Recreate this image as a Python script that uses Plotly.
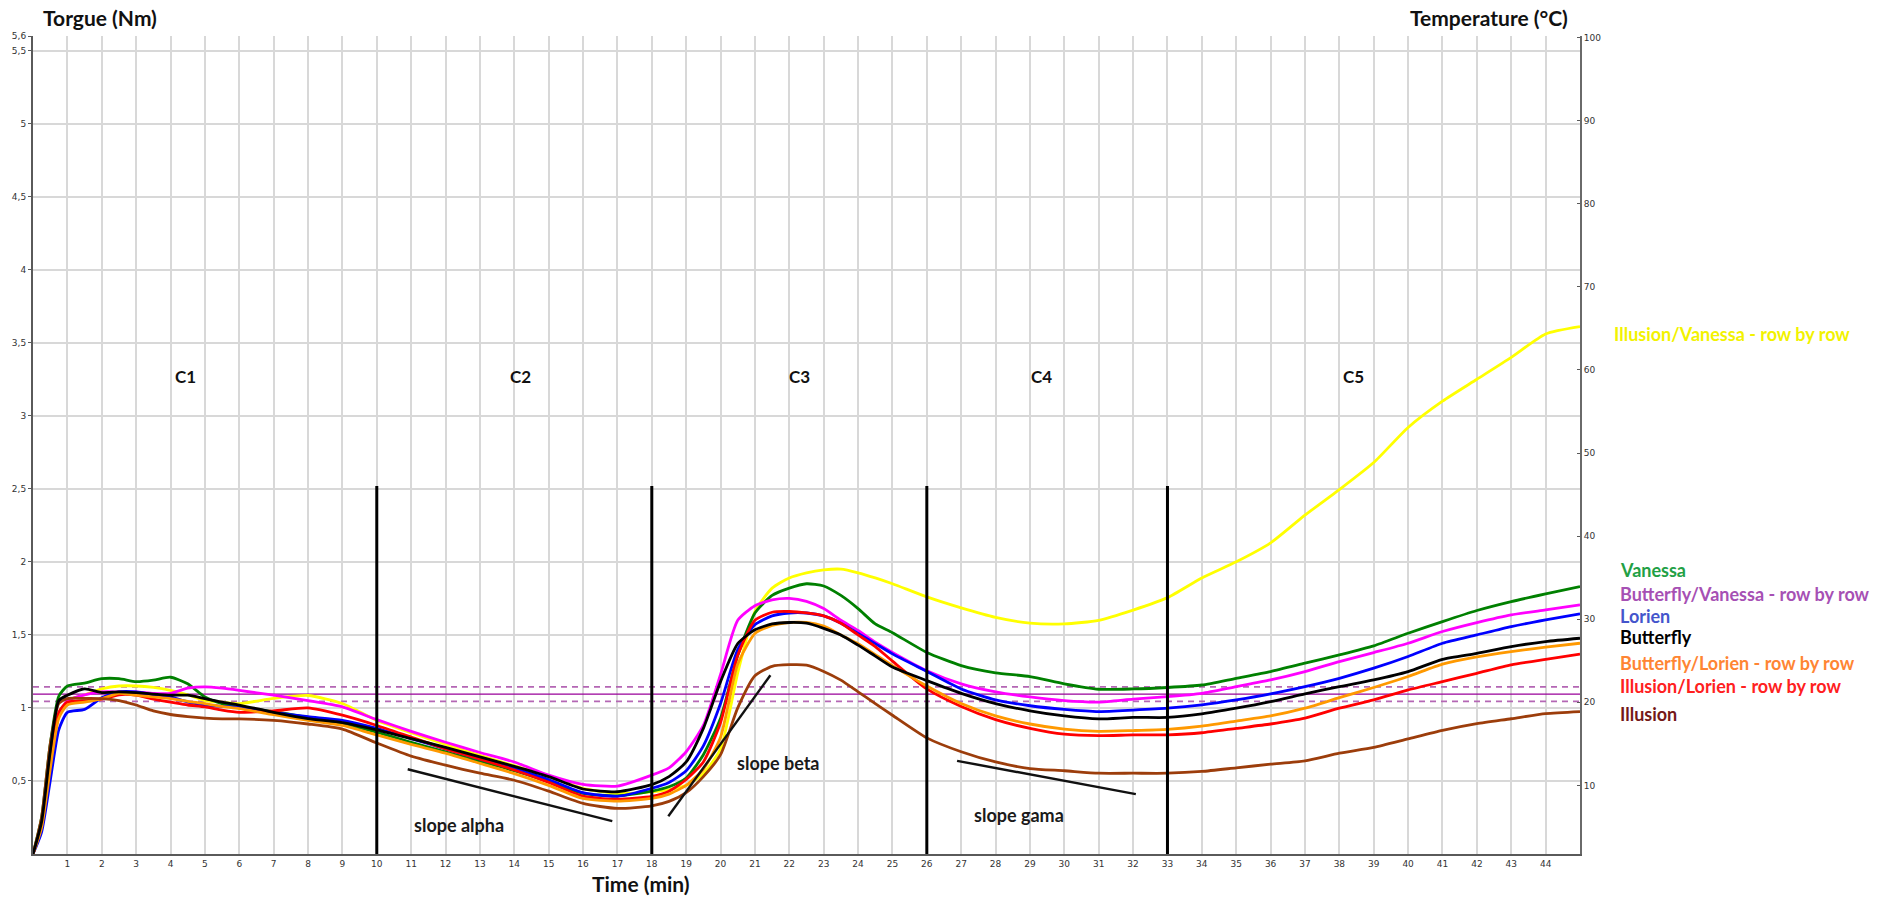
import plotly.graph_objects as go

# ---------------- data ----------------
TIME_MIN = [0, 0.25, 0.5, 0.75, 1, 1.5, 2, 2.5, 3, 3.5, 4, 4.5, 5, 5.5, 6, 7, 8, 9, 10,
            11, 12, 13, 14, 15, 16, 17, 18, 18.5, 19, 19.5, 20, 20.5, 21, 21.5, 22, 22.5,
            23, 23.5, 24, 24.5, 25, 26, 27, 28, 29, 30, 31, 32, 33, 34, 35, 36, 37, 38,
            39, 40, 41, 42, 43, 44, 45]

ILLUSION_VANESSA = [0, 0.20, 0.62, 0.95, 1.05, 1.09, 1.13, 1.15, 1.15, 1.14, 1.12, 1.09, 1.05, 1.04, 1.03,
                    1.065, 1.085, 1.03, 0.915, 0.83, 0.75, 0.675, 0.605, 0.53, 0.45, 0.415, 0.425,
                    0.44, 0.47, 0.55, 0.72, 1.24, 1.66, 1.82, 1.89, 1.925, 1.945, 1.95, 1.925, 1.89, 1.85,
                    1.76, 1.685, 1.62, 1.58, 1.575, 1.6, 1.67, 1.755,
                    1.89, 2.0, 2.13, 2.32, 2.495, 2.68, 2.92, 3.1, 3.25, 3.4, 3.56, 3.61]
VANESSA = [0, 0.25, 0.75, 1.08, 1.15, 1.17, 1.2, 1.2, 1.18, 1.19, 1.21, 1.165, 1.075, 1.03, 1.005,
           0.975, 0.935, 0.89, 0.834, 0.765, 0.7, 0.635, 0.57, 0.495, 0.415, 0.398, 0.43,
           0.46, 0.52, 0.68, 0.93, 1.36, 1.65, 1.77, 1.82, 1.85, 1.835, 1.77, 1.68, 1.575, 1.515,
           1.38, 1.29, 1.24, 1.215, 1.165, 1.128, 1.13, 1.14,
           1.157, 1.203, 1.249, 1.306, 1.363, 1.425, 1.511, 1.591, 1.667, 1.728, 1.781, 1.831]
BUTTERFLY_VANESSA = [0, 0.2, 0.6, 0.95, 1.05, 1.09, 1.11, 1.11, 1.11, 1.1, 1.1, 1.135, 1.144, 1.135, 1.12,
                     1.087, 1.05, 1.007, 0.92, 0.84, 0.765, 0.695, 0.63, 0.54, 0.477, 0.465, 0.54,
                     0.59, 0.70, 0.88, 1.23, 1.6, 1.7, 1.74, 1.75, 1.73, 1.68, 1.6, 1.53, 1.45, 1.38,
                     1.255, 1.165, 1.11, 1.075, 1.05, 1.04, 1.06, 1.077,
                     1.1, 1.146, 1.192, 1.249, 1.317, 1.379, 1.443, 1.523, 1.584, 1.637, 1.671, 1.705]
LORIEN = [0, 0.15, 0.5, 0.85, 0.97, 0.99, 1.07, 1.11, 1.11, 1.09, 1.075, 1.04, 1.02, 1.01, 1.005,
          0.97, 0.94, 0.915, 0.86, 0.79, 0.72, 0.65, 0.585, 0.51, 0.42, 0.395, 0.45,
          0.49, 0.57, 0.74, 1.03, 1.4, 1.57, 1.63, 1.65, 1.65, 1.63, 1.58, 1.51, 1.44, 1.37,
          1.25, 1.13, 1.055, 1.015, 0.99, 0.975, 0.985, 0.998,
          1.021, 1.055, 1.096, 1.146, 1.203, 1.272, 1.352, 1.443, 1.5, 1.557, 1.603, 1.644]
BUTTERFLY = [0, 0.22, 0.7, 1.05, 1.087, 1.13, 1.105, 1.11, 1.105, 1.095, 1.087, 1.087, 1.064, 1.04, 1.02,
             0.97, 0.927, 0.9, 0.85, 0.79, 0.73, 0.665, 0.6, 0.53, 0.445, 0.426, 0.475,
             0.53, 0.63, 0.86, 1.18, 1.44, 1.535, 1.575, 1.585, 1.58, 1.545, 1.5, 1.43, 1.355, 1.28,
             1.187, 1.1, 1.03, 0.98, 0.945, 0.925, 0.935, 0.935,
             0.959, 0.998, 1.043, 1.096, 1.146, 1.192, 1.249, 1.333, 1.374, 1.42, 1.454, 1.477]
BUTTERFLY_LORIEN = [0, 0.18, 0.58, 0.93, 1.02, 1.04, 1.064, 1.1, 1.087, 1.075, 1.064, 1.045, 1.03, 1.01, 0.995,
                    0.954, 0.915, 0.88, 0.815, 0.75, 0.69, 0.62, 0.55, 0.47, 0.38, 0.362, 0.38,
                    0.41, 0.47, 0.58, 0.8, 1.3, 1.51, 1.565, 1.585, 1.585, 1.56, 1.5, 1.44, 1.365, 1.29,
                    1.15, 1.03, 0.945, 0.89, 0.855, 0.84, 0.845, 0.853,
                    0.875, 0.91, 0.945, 0.998, 1.07, 1.14, 1.215, 1.3, 1.35, 1.386, 1.416, 1.443]
ILLUSION_LORIEN = [0, 0.2, 0.62, 0.97, 1.04, 1.05, 1.06, 1.09, 1.087, 1.06, 1.04, 1.02, 1.007, 0.985, 0.97,
                   0.98, 1.0, 0.95, 0.88, 0.8, 0.72, 0.65, 0.575, 0.49, 0.396, 0.375, 0.395,
                   0.43, 0.51, 0.63, 0.9, 1.36, 1.6, 1.655, 1.66, 1.65, 1.63, 1.58, 1.5, 1.42, 1.32,
                   1.13, 1.01, 0.92, 0.86, 0.82, 0.81, 0.815, 0.816,
                   0.83, 0.86, 0.89, 0.93, 0.998, 1.055, 1.123, 1.18, 1.237, 1.295, 1.333, 1.368]
ILLUSION = [0, 0.25, 0.75, 1.03, 1.064, 1.065, 1.064, 1.05, 1.02, 0.98, 0.955, 0.94, 0.93, 0.925, 0.925,
            0.915, 0.89, 0.855, 0.76, 0.67, 0.608, 0.553, 0.505, 0.43, 0.346, 0.312, 0.33,
            0.36, 0.42, 0.53, 0.68, 1.0, 1.22, 1.285, 1.296, 1.293, 1.25, 1.19, 1.11, 1.03, 0.95,
            0.795, 0.7, 0.63, 0.585, 0.57, 0.553, 0.553, 0.553,
            0.565, 0.59, 0.615, 0.638, 0.69, 0.73, 0.788, 0.846, 0.892, 0.926, 0.961, 0.975]

SERIES_NAMES = ["Illusion/Vanessa - row by row", "Vanessa", "Butterfly/Vanessa - row by row", "Lorien",
                "Illusion/Lorien - row by row", "Butterfly/Lorien - row by row", "Illusion", "Butterfly"]
SERIES_VALUES = [ILLUSION_VANESSA, VANESSA, BUTTERFLY_VANESSA, LORIEN,
                 ILLUSION_LORIEN, BUTTERFLY_LORIEN, ILLUSION, BUTTERFLY]
LINE_COLORS = ["#ffff00", "#008000", "#ff00ff", "#0000ff", "#ff0000", "#ff9900", "#9c3d0b", "#000000"]

# side labels (top to bottom)
LABEL_NAMES = ["Illusion/Vanessa - row by row", "Vanessa", "Butterfly/Vanessa - row by row", "Lorien",
               "Butterfly", "Butterfly/Lorien - row by row", "Illusion/Lorien - row by row", "Illusion"]
LABEL_COLORS = ["#f2f200", "#22a045", "#a650b4", "#4455cc", "#000000", "#ff8533", "#ff2020", "#741818"]
LABEL_LEVELS = [3.56, 1.945, 1.78, 1.632, 1.488, 1.31, 1.153, 0.959]

PHASE_BOUNDARIES = [10, 18, 26, 33]
PHASE_LINE_TOP = 2.52
PHASE_LABELS = ["C1", "C2", "C3", "C4", "C5"]
PHASE_LABEL_T = [4.43, 14.19, 22.31, 29.34, 38.42]
PHASE_LABEL_LEVEL = 3.27

SLOPE_LABELS = ["slope alpha", "slope beta", "slope gama"]
SLOPE_T = [[10.9, 16.85], [18.48, 21.45], [26.88, 32.08]]
SLOPE_Y = [[0.58, 0.225], [0.258, 1.224], [0.638, 0.41]]
SLOPE_LABEL_T = [12.4, 21.68, 28.68]
SLOPE_LABEL_Y = [0.198, 0.626, 0.27]

REF_SOLID = 1.094
REF_DASHED = [1.045, 1.144]

TIME_TICKS = list(range(1, 45))
TORQUE_TICKS = [0.5, 1, 1.5, 2, 2.5, 3, 3.5, 4, 4.5, 5, 5.5, 5.6]
TORQUE_TICK_TEXT = ["0,5", "1", "1,5", "2", "2,5", "3", "3,5", "4", "4,5", "5", "5,5", "5,6"]
TEMP_TICKS = [10, 20, 30, 40, 50, 60, 70, 80, 90, 100]

for s in SERIES_VALUES:
    assert len(s) == len(TIME_MIN), len(s)

# ---------------- figure ----------------
fig = go.Figure()

# reference band lines (below curves)
fig.add_trace(go.Scatter(x=[0, 45], y=[REF_SOLID, REF_SOLID], mode="lines",
                         line=dict(color="#990099", width=1.3), hoverinfo="skip"))
for lvl in REF_DASHED:
    fig.add_trace(go.Scatter(x=[0, 45], y=[lvl, lvl], mode="lines",
                             line=dict(color="#b466b4", width=1.6, dash="6px,5px"), hoverinfo="skip"))

for name, vals, col in zip(SERIES_NAMES, SERIES_VALUES, LINE_COLORS):
    fig.add_trace(go.Scatter(x=TIME_MIN, y=vals, mode="lines", name=name,
                             line=dict(color=col, width=2.8, shape="spline", smoothing=0.6)))

# phase boundary lines
px_, py_ = [], []
for b in PHASE_BOUNDARIES:
    px_ += [b, b, None]
    py_ += [0, PHASE_LINE_TOP, None]
fig.add_trace(go.Scatter(x=px_, y=py_, mode="lines", line=dict(color="#000000", width=3),
                         hoverinfo="skip"))

# slope lines
for st, sy in zip(SLOPE_T, SLOPE_Y):
    fig.add_trace(go.Scatter(x=st, y=sy, mode="lines", line=dict(color="#111111", width=2.4),
                             hoverinfo="skip"))

# dummy trace for the temperature axis
fig.add_trace(go.Scatter(x=[0], y=[50], yaxis="y2", mode="none", hoverinfo="skip"))

annotations = []
bold = dict(family="Lato", weight="bold")
for lab, t in zip(PHASE_LABELS, PHASE_LABEL_T):
    annotations.append(dict(x=t, y=PHASE_LABEL_LEVEL, xref="x", yref="y", text=lab, showarrow=False,
                            font=dict(size=17, color="#111111", **bold)))
for lab, t, y in zip(SLOPE_LABELS, SLOPE_LABEL_T, SLOPE_LABEL_Y):
    annotations.append(dict(x=t, y=y, xref="x", yref="y", text=lab, showarrow=False,
                            font=dict(size=18, color="#1a1a1a", **bold)))
for i, (lab, col, lvl) in enumerate(zip(LABEL_NAMES, LABEL_COLORS, LABEL_LEVELS)):
    annotations.append(dict(x=1.0205 if i == 0 else 1.0243, y=lvl, xref="paper", yref="y", text=lab,
                            showarrow=False, xanchor="left", yanchor="middle",
                            font=dict(size=18, color=col, **bold)))
# axis titles
annotations.append(dict(x=0.005, y=1.0232, xref="paper", yref="paper", text="Torgue (Nm)",
                        showarrow=False, xanchor="left", yanchor="middle",
                        font=dict(size=21, color="#111111", **bold)))
annotations.append(dict(x=0.9935, y=1.0232, xref="paper", yref="paper", text="Temperature (°C)",
                        showarrow=False, xanchor="right", yanchor="middle",
                        font=dict(size=21, color="#111111", **bold)))
annotations.append(dict(x=0.393, y=-0.0355, xref="paper", yref="paper", text="Time (min)",
                        showarrow=False, xanchor="center", yanchor="middle",
                        font=dict(size=21, color="#111111", **bold)))
# axis arrows
annotations.append(dict(x=45.35, y=0, xref="x", yref="y", text="", showarrow=True, arrowhead=5,
                        ax=-14, ay=0, arrowcolor="#5a5a5a", arrowwidth=1.6, arrowsize=1.5))
annotations.append(dict(x=0, y=5.68, xref="x", yref="y", text="", showarrow=True, arrowhead=5,
                        ax=0, ay=14, arrowcolor="#5a5a5a", arrowwidth=1.6, arrowsize=1.5))

tickfont = dict(family="DejaVu Sans", size=9, color="#333333")
fig.update_layout(
    width=1892, height=899,
    margin=dict(l=28, r=312, t=36, b=45),
    paper_bgcolor="white", plot_bgcolor="white",
    showlegend=False,
    annotations=annotations,
    xaxis=dict(range=[0, 45], tickvals=TIME_TICKS, showgrid=True, gridcolor="#d8d8d8", gridwidth=1.5,
               showline=True, linecolor="#5a5a5a", linewidth=2, ticks="", zeroline=False,
               tickfont=tickfont),
    yaxis=dict(range=[0, 5.6], tickvals=TORQUE_TICKS, ticktext=TORQUE_TICK_TEXT, showgrid=True,
               gridcolor="#d8d8d8", gridwidth=1.5, showline=True, linecolor="#5a5a5a", linewidth=2,
               ticks="outside", ticklen=3, tickcolor="#5a5a5a", zeroline=False, tickfont=tickfont),
    yaxis2=dict(overlaying="y", side="right", range=[1.74, 100.2], tickvals=TEMP_TICKS, showgrid=False,
                showline=True, linecolor="#6a6a6a", linewidth=2, ticks="inside", ticklen=3,
                tickcolor="#5a5a5a", zeroline=False, tickfont=tickfont),
)

fig.write_html("out.html", config={"displayModeBar": False},
               post_script="document.body.style.margin='0';document.body.style.overflow='hidden';")
